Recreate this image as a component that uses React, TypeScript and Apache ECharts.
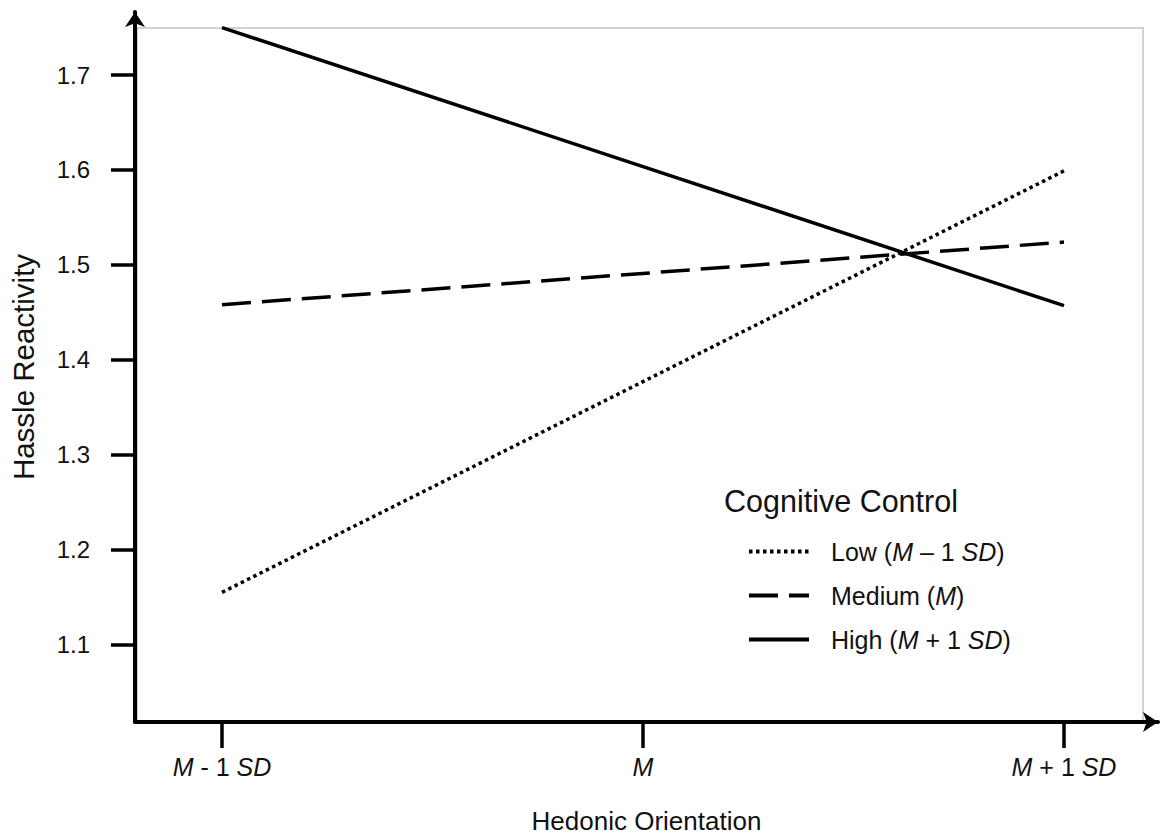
import React, { useEffect, useRef } from "react";
import * as echarts from "echarts";

const xPositions = [-1, 0, 1];
const xTickLabels = ["{i|M} - 1 {i|SD}", "{i|M}", "{i|M} + 1 {i|SD}"];
const yTicks = [1.1, 1.2, 1.3, 1.4, 1.5, 1.6, 1.7];
const lowValues = [1.155, 1.377, 1.599];
const mediumValues = [1.458, 1.491, 1.524];
const highValues = [1.75, 1.6035, 1.457];
const seriesNames = ["Low", "Medium", "High"];
const legendLabels = ["Low ({i|M} – 1 {i|SD})", "Medium ({i|M})", "High ({i|M} + 1 {i|SD})"];

const FONT = "'Liberation Sans', Arial, sans-serif";

function pairs(vals: number[]) {
  return xPositions.map((x, i) => [x, vals[i]]);
}

export default function App() {
  const ref = useRef<HTMLDivElement>(null);
  useEffect(() => {
    if (!ref.current) return;
    const chart = echarts.init(ref.current, undefined, { renderer: "svg" });
    const italic = { fontStyle: "italic", fontFamily: FONT, fontSize: 25, color: "#111" };
    chart.setOption({
      animation: false,
      backgroundColor: "#fff",
      textStyle: { fontFamily: FONT },
      grid: { left: 135, right: 4, top: 12, bottom: 112, containLabel: false },
      title: {
        text: "Cognitive Control",
        left: 719,
        top: 480,
        textStyle: { fontFamily: FONT, fontSize: 30.5, fontWeight: "normal", color: "#111" },
      },
      legend: {
        orient: "vertical",
        left: 742,
        top: 534,
        itemWidth: 60,
        itemHeight: 14,
        itemGap: 19,
        data: seriesNames,
        itemStyle: { opacity: 0 },
        lineStyle: { width: 4 },
        formatter: (name: string) => legendLabels[seriesNames.indexOf(name)],
        textStyle: {
          fontFamily: FONT,
          fontSize: 25,
          color: "#111",
          padding: [0, 0, 0, 17],
          rich: { i: { ...italic, fontSize: 25 } },
        },
      },
      graphic: [
        {
          type: "rect",
          z: -1,
          shape: { x: 137, y: 28, width: 1006, height: 695 },
          style: { fill: "none", stroke: "#c4c4c4", lineWidth: 1.5 },
          silent: true,
        },
      ],
      xAxis: {
        type: "value",
        min: -1.2067,
        max: 1.2233,
        splitLine: { show: false },
        axisLine: {
          show: true,
          onZero: false,
          lineStyle: { color: "#000", width: 4 },
          symbol: ["none", "arrow"],
          symbolSize: [15, 15],
        },
        axisTick: { show: true, customValues: xPositions, length: 26, lineStyle: { color: "#000", width: 3.5 } },
        axisLabel: {
          customValues: xPositions,
          margin: 32,
          fontSize: 25,
          color: "#111",
          fontFamily: FONT,
          formatter: (v: number) => xTickLabels[xPositions.indexOf(Math.round(v))] ?? "",
          rich: { i: italic },
        },
        name: "Hedonic Orientation",
        nameLocation: "middle",
        nameGap: 86,
        nameTextStyle: { fontFamily: FONT, fontSize: 26, color: "#111" },
      },
      yAxis: {
        type: "value",
        min: 1.0184,
        max: 1.7664,
        splitLine: { show: false },
        axisLine: {
          show: true,
          onZero: false,
          lineStyle: { color: "#000", width: 4 },
          symbol: ["none", "arrow"],
          symbolSize: [15, 15],
        },
        axisTick: { show: true, customValues: yTicks, length: 24, lineStyle: { color: "#000", width: 3.5 } },
        axisLabel: {
          customValues: yTicks,
          margin: 45,
          fontSize: 24,
          color: "#111",
          fontFamily: FONT,
          formatter: (v: number) => v.toFixed(1),
        },
        name: "Hassle Reactivity",
        nameLocation: "middle",
        nameGap: 97,
        nameTextStyle: { fontFamily: FONT, fontSize: 29.5, color: "#111" },
      },
      series: [
        {
          name: "Low",
          type: "line",
          data: pairs(lowValues),
          symbol: "none",
          lineStyle: { color: "#000", width: 3.5, type: [3.5, 3.5] },
          itemStyle: { color: "#000" },
        },
        {
          name: "Medium",
          type: "line",
          data: pairs(mediumValues),
          symbol: "none",
          lineStyle: { color: "#000", width: 3.5, type: [29, 11] },
          itemStyle: { color: "#000" },
        },
        {
          name: "High",
          type: "line",
          data: pairs(highValues),
          symbol: "none",
          lineStyle: { color: "#000", width: 3.5, type: "solid" },
          itemStyle: { color: "#000" },
        },
      ],
    });
    return () => chart.dispose();
  }, []);
  return <div ref={ref} style={{ width: 1162, height: 839, position: "absolute", left: 0, top: 0 }} />;
}
